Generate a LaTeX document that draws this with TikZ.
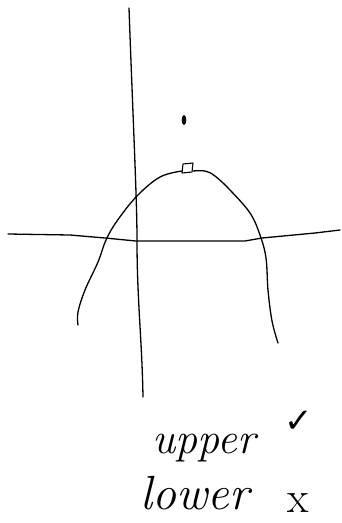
\documentclass[tikz,border=0pt]{standalone}
\usepackage{fontspec}
\newfontfamily\symfont{DejaVu Sans}
\begin{document}
\begin{tikzpicture}[x=1pt, y=-1pt, line width=1.3pt, line cap=round, line join=round]
    \useasboundingbox (0,0) rectangle (342,523);

    % 坐标轴
    \draw (129,8) .. controls (133,120) and (137,200) .. (137,240)
          .. controls (137,300) and (142,340) .. (143,397);
    \draw (8,234) -- (70,235) -- (105,238) -- (136,241) -- (245,241)
          -- (262,238) -- (315,233) -- (340,230);

    % 抛物线
    \draw plot[smooth, tension=0.6] coordinates {
        (78,325) (78,312) (85,290) (98,262) (106,240) (117,221)
        (137,196) (160,177) (182,171)};
    \draw plot[smooth, tension=0.6] coordinates {
        (193,171) (205,171) (215,176) (230,190) (250,213) (260,235)
        (266,258) (268,290) (272,321) (278,343)};

    % 顶点
    \draw[line width=1.1pt] (183,164) -- (193,163) -- (192,172) -- (182,173) -- cycle;
    \fill (184,120) ellipse (2.3 and 5);

    % 文字
    \node[font=\itshape\fontsize{44}{44}\selectfont, anchor=base west, inner sep=0pt] (upper) at (152,453) {upper};
    \node[font=\symfont\fontsize{34}{34}\selectfont, anchor=base west, inner sep=0pt] (tick) at (284,432) {✓};
    \node[font=\itshape\fontsize{48}{48}\selectfont, anchor=base west, inner sep=0pt] (lower) at (140,509) {lower};
    \node[font=\fontsize{44}{44}\selectfont, anchor=base west, inner sep=0pt] (cross) at (287,512) {x};
\end{tikzpicture}
\end{document}
